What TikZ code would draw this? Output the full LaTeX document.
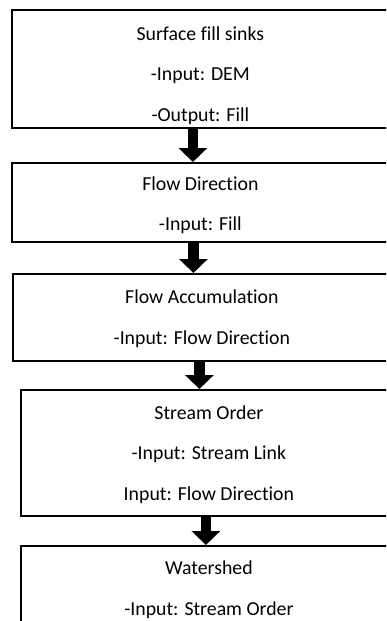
\documentclass[tikz,border=0pt]{standalone}
\usepackage{fontspec}
\setmainfont{Carlito}[Ligatures=NoCommon]
\usetikzlibrary{arrows.meta,positioning}
\tikzset{
  stepbox/.style={draw, line width=1.8pt, fill=white, align=center, anchor=north west,
    inner sep=0pt, text depth=0pt, font=\fontsize{19.8}{40.5}\selectfont},
  flowarrow/.style={line width=10.5pt, -{Triangle[length=14pt,width=28pt]}}
}

\begin{document}
\begin{tikzpicture}[x=1pt,y=-1pt]
  \clip (0,0) rectangle (386,621);
  \fill[white] (0,0) rectangle (386,621);

  \node[stepbox, minimum width=377pt, minimum height=118pt, text height=105pt] (fill) at (11,9)
    {Surface fill sinks\\-Input: DEM\\-Output: Fill};
  \node[stepbox, minimum width=377pt, minimum height=79pt, text height=57pt] (flowdir) at (11,162)
    {Flow Direction\\-Input: Fill};
  \node[stepbox, minimum width=378pt, minimum height=87pt, text height=54pt] (flowacc) at (12,273)
    {Flow Accumulation\\-Input: Flow Direction};
  \node[stepbox, minimum width=376pt, minimum height=126pt, text height=95pt] (order) at (20,389)
    {Stream Order\\-Input: Stream Link\\Input: Flow Direction};
  \node[stepbox, minimum width=376pt, minimum height=86pt, text height=53pt] (watershed) at (20,545)
    {Watershed\\-Input: Stream Order};

  % arrows between the steps
  \draw[flowarrow] ([xshift=-7.5pt]fill.south) -- ([xshift=-7.5pt]fill.south |- flowdir.north);
  \draw[flowarrow] ([xshift=-7pt]flowdir.south) -- ([xshift=-7pt]flowdir.south |- flowacc.north);
  \draw[flowarrow] ([xshift=-2.5pt]flowacc.south) -- ([xshift=-2.5pt]flowacc.south |- order.north);
  \draw[flowarrow] ([xshift=-3pt]order.south) -- ([xshift=-3pt]order.south |- watershed.north);
\end{tikzpicture}
\end{document}
